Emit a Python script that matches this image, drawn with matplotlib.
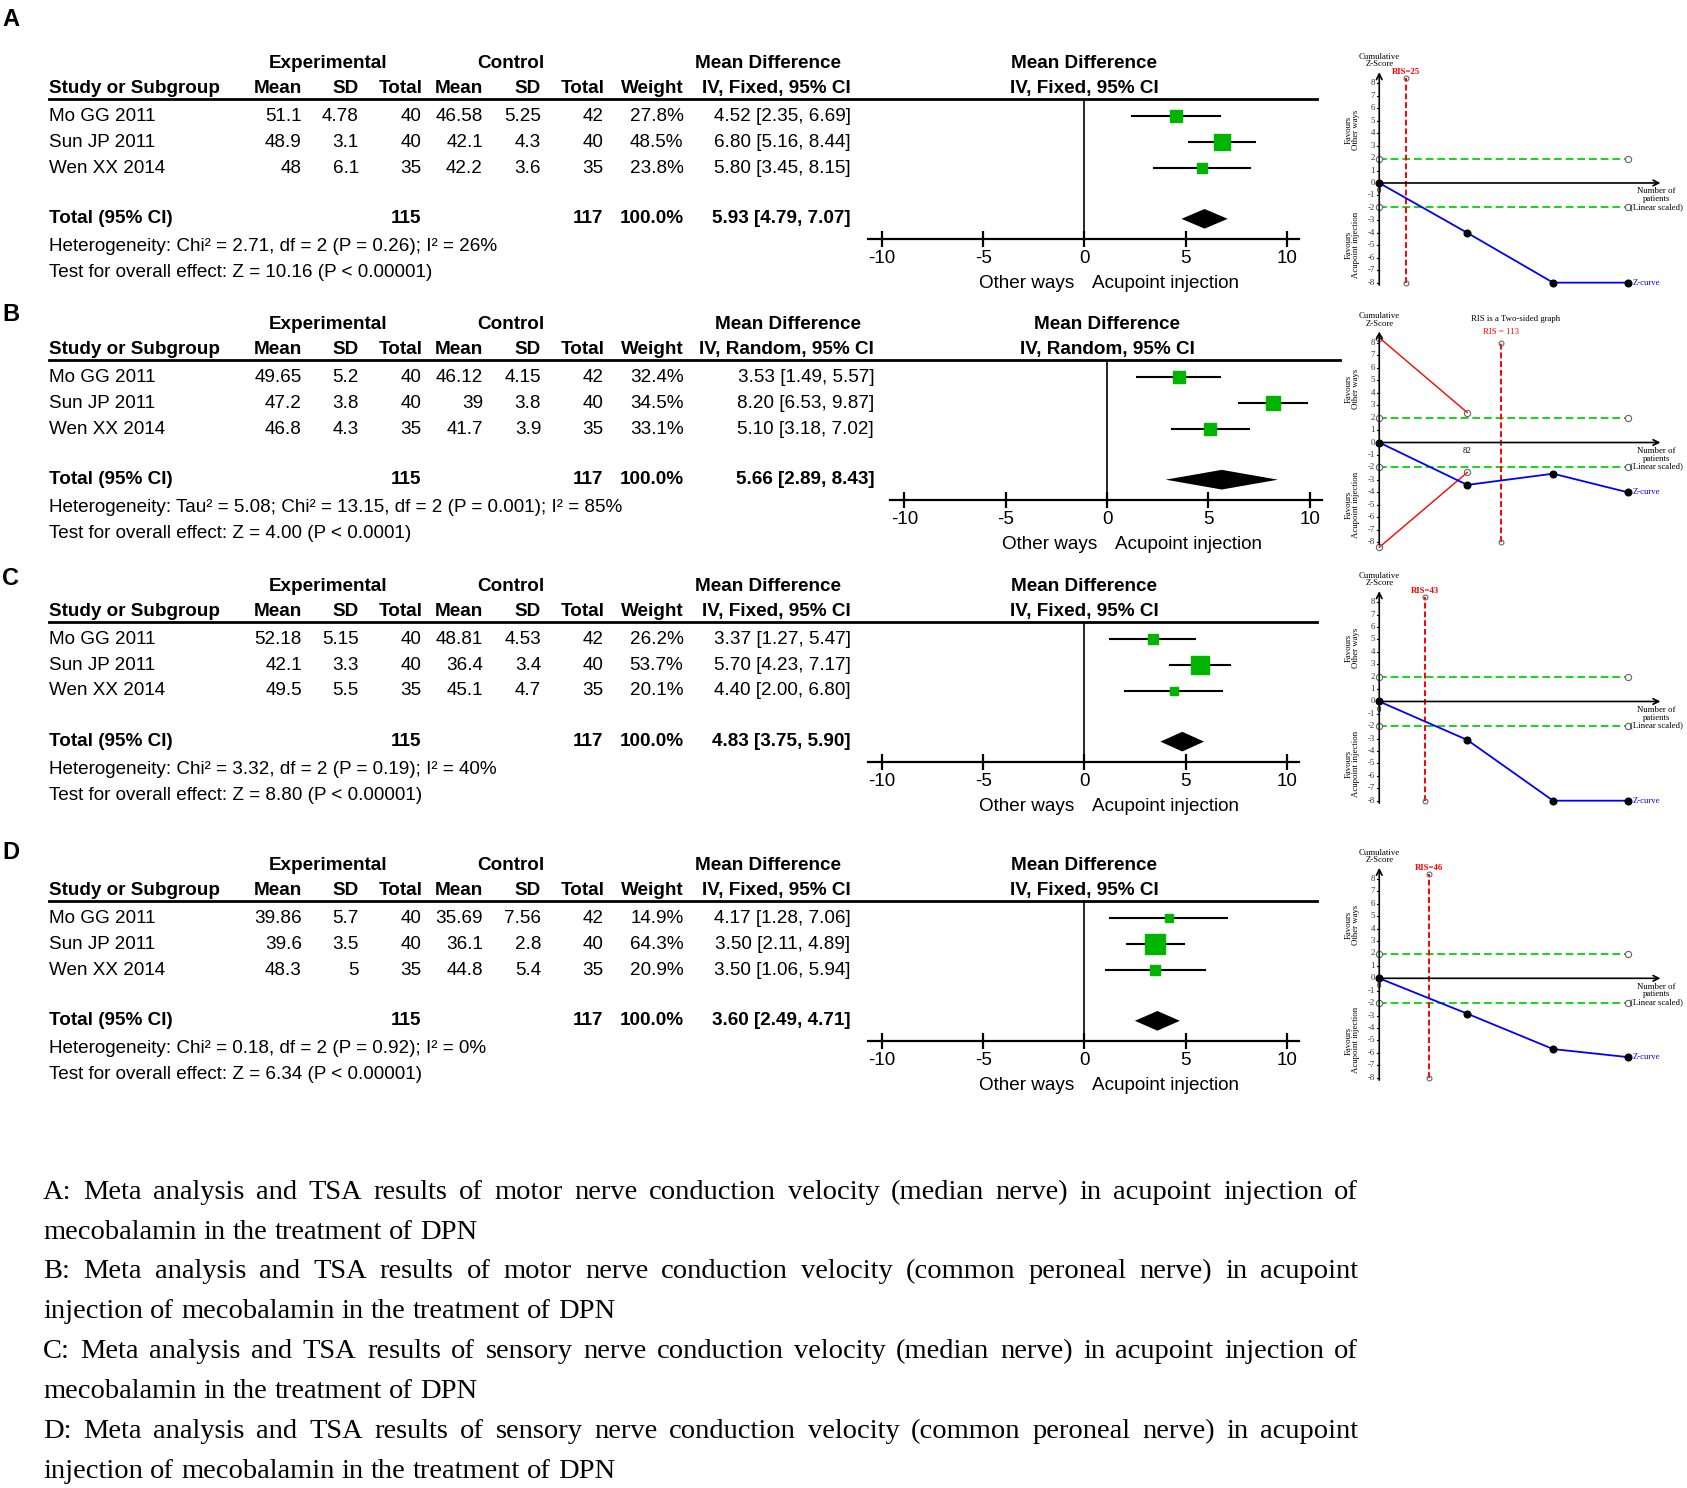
import numpy as np
import matplotlib.pyplot as plt

plt.rcParams['font.family'] = ['Liberation Sans', 'DejaVu Sans']
plt.rcParams['axes.unicode_minus'] = False

# ---- data -------------------------------------------------------------
studies = ["Mo GG 2011", "Sun JP 2011", "Wen XX 2014"]
exp_n = [40, 40, 35]
ctl_n = [42, 40, 35]
total_weight = 100.0
cum_n = [0, 82, 162, 232]          # cumulative patients for TSA

A_exp_mean = [51.1, 48.9, 48]
A_exp_sd = [4.78, 3.1, 6.1]
A_ctl_mean = [46.58, 42.1, 42.2]
A_ctl_sd = [5.25, 4.3, 3.6]
A_weight = [27.8, 48.5, 23.8]
A_md = [4.52, 6.80, 5.80]
A_lo = [2.35, 5.16, 3.45]
A_hi = [6.69, 8.44, 8.15]
A_total = [5.93, 4.79, 7.07]
A_het = "Heterogeneity: Chi² = 2.71, df = 2 (P = 0.26); I² = 26%"
A_test = "Test for overall effect: Z = 10.16 (P < 0.00001)"
A_z = [0, -4, -8, -8]
A_ris = 25

B_exp_mean = [49.65, 47.2, 46.8]
B_exp_sd = [5.2, 3.8, 4.3]
B_ctl_mean = [46.12, 39, 41.7]
B_ctl_sd = [4.15, 3.8, 3.9]
B_weight = [32.4, 34.5, 33.1]
B_md = [3.53, 8.20, 5.10]
B_lo = [1.49, 6.53, 3.18]
B_hi = [5.57, 9.87, 7.02]
B_total = [5.66, 2.89, 8.43]
B_het = "Heterogeneity: Tau² = 5.08; Chi² = 13.15, df = 2 (P = 0.001); I² = 85%"
B_test = "Test for overall effect: Z = 4.00 (P < 0.0001)"
B_z = [0, -3.4, -2.5, -4.0]
B_ris = 113
B_bound_n = [0, 82]
B_bound_z = [8.4, 2.4]

C_exp_mean = [52.18, 42.1, 49.5]
C_exp_sd = [5.15, 3.3, 5.5]
C_ctl_mean = [48.81, 36.4, 45.1]
C_ctl_sd = [4.53, 3.4, 4.7]
C_weight = [26.2, 53.7, 20.1]
C_md = [3.37, 5.70, 4.40]
C_lo = [1.27, 4.23, 2.00]
C_hi = [5.47, 7.17, 6.80]
C_total = [4.83, 3.75, 5.90]
C_het = "Heterogeneity: Chi² = 3.32, df = 2 (P = 0.19); I² = 40%"
C_test = "Test for overall effect: Z = 8.80 (P < 0.00001)"
C_z = [0, -3.1, -8, -8]
C_ris = 43

D_exp_mean = [39.86, 39.6, 48.3]
D_exp_sd = [5.7, 3.5, 5]
D_ctl_mean = [35.69, 36.1, 44.8]
D_ctl_sd = [7.56, 2.8, 5.4]
D_weight = [14.9, 64.3, 20.9]
D_md = [4.17, 3.50, 3.50]
D_lo = [1.28, 2.11, 1.06]
D_hi = [7.06, 4.89, 5.94]
D_total = [3.60, 2.49, 4.71]
D_het = "Heterogeneity: Chi² = 0.18, df = 2 (P = 0.92); I² = 0%"
D_test = "Test for overall effect: Z = 6.34 (P < 0.00001)"
D_z = [0, -2.85, -5.7, -6.35]
D_ris = 46

caption = [
    ("A: Meta analysis and TSA results of motor nerve conduction velocity (median nerve) in acupoint injection of", True),
    ("mecobalamin in the treatment of DPN", False),
    ("B: Meta analysis and TSA results of motor nerve conduction velocity (common peroneal nerve) in acupoint", True),
    ("injection of mecobalamin in the treatment of DPN", False),
    ("C: Meta analysis and TSA results of sensory nerve conduction velocity (median nerve) in acupoint injection of", True),
    ("mecobalamin in the treatment of DPN", False),
    ("D: Meta analysis and TSA results of sensory nerve conduction velocity (common peroneal nerve) in acupoint", True),
    ("injection of mecobalamin in the treatment of DPN", False),
]

panels = [
    dict(letter="A", model="IV, Fixed, 95% CI", em=A_exp_mean, es=A_exp_sd, cm=A_ctl_mean, cs=A_ctl_sd,
         w=A_weight, md=A_md, lo=A_lo, hi=A_hi, tot=A_total, het=A_het, test=A_test, z=A_z, ris=A_ris),
    dict(letter="B", model="IV, Random, 95% CI", em=B_exp_mean, es=B_exp_sd, cm=B_ctl_mean, cs=B_ctl_sd,
         w=B_weight, md=B_md, lo=B_lo, hi=B_hi, tot=B_total, het=B_het, test=B_test, z=B_z, ris=B_ris),
    dict(letter="C", model="IV, Fixed, 95% CI", em=C_exp_mean, es=C_exp_sd, cm=C_ctl_mean, cs=C_ctl_sd,
         w=C_weight, md=C_md, lo=C_lo, hi=C_hi, tot=C_total, het=C_het, test=C_test, z=C_z, ris=C_ris),
    dict(letter="D", model="IV, Fixed, 95% CI", em=D_exp_mean, es=D_exp_sd, cm=D_ctl_mean, cs=D_ctl_sd,
         w=D_weight, md=D_md, lo=D_lo, hi=D_hi, tot=D_total, het=D_het, test=D_test, z=D_z, ris=D_ris),
]

# ---- layout (measured on a 1565 px wide view of the reference) --------
W, H = 1687, 1488
S = W / 1565.0
fig = plt.figure(figsize=(W / 100, H / 100), dpi=100)


def fx(x):
    return x * S / W


def fy(y):
    return 1 - y * S / H


def add_box(x0, y0, x1, y1):
    return fig.add_axes([fx(x0), fy(y1), fx(x1) - fx(x0), fy(y0) - fy(y1)])


def txt(x, y, s, ha='left', bold=False, size=13.6, **kw):
    fig.text(fx(x), fy(y), s, ha=ha, va='center', fontsize=size,
             fontweight='bold' if bold else 'normal', **kw)


def hline(x0, x1, y, lw=2.0):
    fig.add_artist(plt.Line2D([fx(x0), fx(x1)], [fy(y), fy(y)], color='black', lw=lw,
                              transform=fig.transFigure))


GREEN = '#00B400'
TSA_GREEN = '#19D419'

y0s = [59, 301, 544, 803]
z0s = [1006, 1027, 1006, 1006]
ci_right = [789, 811, 789, 789]
md_head = [712, 731, 712, 712]
line_right = [1222, 1243, 1222, 1222]
letter_y = [18, 292, 537, 791]
tsa_top = [77.3, 317.9, 558.7, 815.4]
tsa_bot = [262.2, 503.1, 742.8, 999.7]
cols = [280, 333, 391, 448, 502, 560, 634]
unit = 18.8

for k, p in enumerate(panels):
    y0 = y0s[k]
    txt(10, letter_y[k], p["letter"], ha='center', bold=True, size=17)

    # table headers
    txt(304, y0, "Experimental", ha='center', bold=True)
    txt(474, y0, "Control", ha='center', bold=True)
    txt(md_head[k], y0, "Mean Difference", ha='center', bold=True)
    txt(z0s[k], y0, "Mean Difference", ha='center', bold=True)
    txt(z0s[k], y0 + 23, p["model"], ha='center', bold=True)
    txt(45, y0 + 23, "Study or Subgroup", bold=True)
    for x, h in zip(cols, ["Mean", "SD", "Total", "Mean", "SD", "Total", "Weight"]):
        txt(x + (1 if h == "Total" else 0), y0 + 23, h, ha='right', bold=True)
    txt(ci_right[k], y0 + 23, p["model"], ha='right', bold=True)
    hline(45, line_right[k], y0 + 33)

    # study rows
    for i, name in enumerate(studies):
        yy = y0 + 49 + 24 * i
        vals = [f"{p['em'][i]:g}", f"{p['es'][i]:g}", f"{exp_n[i]}",
                f"{p['cm'][i]:g}", f"{p['cs'][i]:g}", f"{ctl_n[i]}", f"{p['w'][i]:.1f}%"]
        txt(45, yy, name)
        for x, v in zip(cols, vals):
            txt(x, yy, v, ha='right')
        txt(ci_right[k], yy, f"{p['md'][i]:.2f} [{p['lo'][i]:.2f}, {p['hi'][i]:.2f}]", ha='right')

    yt = y0 + 144
    txt(45, yt, "Total (95% CI)", bold=True)
    txt(cols[2], yt, f"{sum(exp_n)}", ha='right', bold=True)
    txt(cols[5], yt, f"{sum(ctl_n)}", ha='right', bold=True)
    txt(cols[6], yt, f"{total_weight:.1f}%", ha='right', bold=True)
    tm, tl, th = p["tot"]
    txt(ci_right[k], yt, f"{tm:.2f} [{tl:.2f}, {th:.2f}]", ha='right', bold=True)
    txt(45, y0 + 170, p["het"])
    txt(45, y0 + 194, p["test"])

    # forest plot
    z0 = z0s[k]
    ax = add_box(z0 - 10.7 * unit, y0 + 33, z0 + 10.6 * unit, y0 + 163)
    ax.patch.set_alpha(0)
    ax.set_xlim(-10.7, 10.6)
    ax.set_ylim(4.75, -0.667)
    for i in range(len(studies)):
        ax.plot([p["lo"][i], p["hi"][i]], [i, i], color='black', lw=1.5)
        side = 0.95 * p["w"][i] ** 0.72
        ax.plot(p["md"][i], i, marker='s', ms=side * 0.776, color=GREEN, mec=GREEN)
    ty = (144 - 49) / 24
    ax.fill([tl, tm, th, tm], [ty, ty - 0.38, ty, ty + 0.38], color='black', lw=0)
    ax.axvline(0, color='black', lw=1.2)
    for s in ['top', 'left', 'right']:
        ax.spines[s].set_visible(False)
    ax.spines['bottom'].set_linewidth(1.6)
    ax.set_yticks([])
    ax.set_xticks([-10, -5, 0, 5, 10])
    ax.tick_params(axis='x', direction='inout', length=12, width=1.6, labelsize=13.6, pad=2)
    txt(z0 - 9, y0 + 204, "Other ways", ha='right')
    txt(z0 + 7, y0 + 204, "Acupoint injection", ha='left')

    # TSA plot
    top, bot = tsa_top[k], tsa_bot[k]
    ppu = (bot - top) / 16
    ppn = 231 / 232
    ax2 = add_box(1279.5 - 42 * ppn, top - 3 * ppu, 1279.5 + 285 * ppn, bot + 2 * ppu)
    ax2.set_xlim(-42, 285)
    ax2.set_ylim(-10, 11)
    ax2.axis('off')
    f = dict(family=['Liberation Serif', 'DejaVu Serif'], fontsize=6.3)
    ax2.annotate('', xy=(0, 8.9), xytext=(0, -8.2),
                 arrowprops=dict(arrowstyle='->', lw=1.2, color='black', shrinkA=0, shrinkB=0))
    ax2.annotate('', xy=(262, 0), xytext=(0, 0),
                 arrowprops=dict(arrowstyle='->', lw=1.2, color='black', shrinkA=0, shrinkB=0))
    for t in range(-8, 9):
        ax2.plot([-2, 0], [t, t], color='black', lw=0.8)
        ax2.text(-4, t, str(t), ha='right', va='center', color='#333333', **f)
    for zz in [1.96, -1.96]:
        ax2.plot([cum_n[0], cum_n[-1]], [zz, zz], color=TSA_GREEN, lw=1.4, ls=(0, (4, 2)))
        ax2.plot([cum_n[0], cum_n[-1]], [zz, zz], ls='none', marker='o', ms=4.5,
                 mfc='white', mec='#666666', mew=0.8)
    if p["letter"] == "B":
        rtop = 8.0
        ax2.plot(B_bound_n, B_bound_z, color='red', lw=1.0)
        ax2.plot(B_bound_n, [-v for v in B_bound_z], color='red', lw=1.0)
        ax2.plot(B_bound_n * 2, B_bound_z + [-v for v in B_bound_z], ls='none', marker='o', ms=4.5,
                 mfc='none', mec='#666666', mew=0.8)
        ax2.text(p["ris"], 8.55, f"RIS = {p['ris']}", ha='center', va='bottom', color='red', **f)
        ax2.text(127, 9.9, "RIS is a Two-sided graph", ha='center', va='center', **f)
        ax2.text(82, -0.65, "82", ha='center', va='center', **f)
    else:
        rtop = 8.4
        ax2.text(p["ris"], 8.55, f"RIS={p['ris']}", ha='center', va='bottom', color='red',
                 fontweight='bold', **f)
        ax2.text(0, -0.65, "0", ha='center', va='center', **f)
    ax2.plot([p["ris"], p["ris"]], [-8, rtop], color='red', lw=1.4, ls=(0, (3, 1.5)))
    ax2.plot([p["ris"], p["ris"]], [-8, rtop], ls='none', marker='o', ms=3.5,
             mfc='none', mec='#666666', mew=0.8)
    ax2.plot(cum_n, p["z"], color='blue', lw=1.3)
    ax2.plot(cum_n, p["z"], ls='none', marker='o', ms=4.8, color='black')
    ax2.text(cum_n[-1] + 4, p["z"][-1], "Z-curve", ha='left', va='center', color='blue', **f)
    ax2.text(0, 9.2, "Cumulative\nZ-Score", ha='center', va='bottom', linespacing=0.9, **f)
    ax2.text(258, -0.35, "Number of\npatients\n(Linear scaled)", ha='center', va='top',
             linespacing=0.95, **f)
    ax2.text(-25, 4.3, "Favours\nOther ways", ha='center', va='center', rotation=90,
             linespacing=0.9, **f)
    ax2.text(-25, -5.0, "Favours\nAcupoint injection", ha='center', va='center', rotation=90,
             linespacing=0.9, **f)

# ---- justified caption ------------------------------------------------
renderer = fig.canvas.get_renderer()
cap_size = 20.5
for n, (line, justify) in enumerate(caption):
    y = 1106 + 37 * n
    words = line.split()
    ts = [fig.text(0, fy(y), w, ha='left', va='center', fontsize=cap_size,
                   family=['Liberation Serif', 'DejaVu Serif']) for w in words]
    widths = [t.get_window_extent(renderer).width / W for t in ts]
    left, right = fx(40), fx(1260)
    if justify and len(words) > 1:
        gap = (right - left - sum(widths)) / (len(words) - 1)
    else:
        gap = 0.25 * cap_size * 100 / 72 / W
    x = left
    for t, wd in zip(ts, widths):
        t.set_x(x)
        x += wd + gap

fig.savefig("out.png", dpi=100)
